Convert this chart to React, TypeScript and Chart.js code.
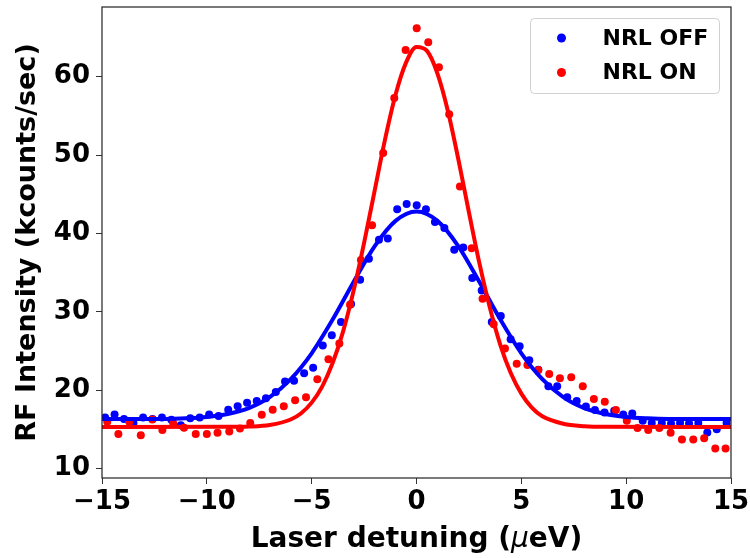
import React, { useEffect, useRef } from 'react';
import { Chart, registerables } from 'chart.js';

Chart.register(...registerables);

// ---- data ----
const seriesLabels = ['NRL OFF', 'NRL ON'];
const seriesColors = ['#0000ff', '#ff0000'];

const offX = [-14.85, -14.40, -13.95, -13.50, -13.04, -12.59, -12.14, -11.69, -11.24, -10.79, -10.34, -9.89, -9.44, -8.98, -8.53, -8.08, -7.62, -7.18, -6.71, -6.27, -5.84, -5.36, -4.93, -4.47, -4.04, -3.60, -3.12, -2.69, -2.27, -1.79, -1.37, -0.92, -0.47, 0.01, 0.45, 0.88, 1.33, 1.80, 2.23, 2.66, 3.11, 3.59, 4.02, 4.49, 4.92, 5.38, 5.81, 6.29, 6.71, 7.19, 7.64, 8.08, 8.51, 8.97, 9.43, 9.86, 10.29, 10.79, 11.22, 11.70, 12.14, 12.57, 13.00, 13.44, 13.87, 14.32, 14.79];
const offY = [16.5, 16.9, 16.3, 15.8, 16.5, 16.3, 16.5, 16.2, 15.5, 16.4, 16.5, 16.9, 16.7, 17.5, 17.95, 18.4, 18.6, 18.95, 19.75, 21.1, 21.2, 22.15, 22.85, 25.7, 27.0, 28.7, 31.0, 34.1, 36.75, 39.2, 39.35, 43.1, 43.75, 43.6, 43.1, 41.45, 40.7, 37.9, 38.2, 34.3, 32.7, 28.7, 29.45, 26.5, 25.6, 23.8, 22.6, 20.5, 20.5, 19.1, 18.6, 17.9, 17.45, 17.15, 17.35, 16.9, 17.0, 16.1, 15.8, 15.8, 15.75, 15.8, 15.75, 15.8, 14.6, 15.0, 15.8];

const onX = [-14.75, -14.22, -13.70, -13.15, -12.60, -12.12, -11.60, -11.09, -10.53, -10.00, -9.49, -8.93, -8.42, -7.93, -7.38, -6.86, -6.33, -5.79, -5.27, -4.73, -4.20, -3.68, -3.17, -2.65, -2.12, -1.59, -1.06, -0.52, 0.01, 0.56, 1.07, 1.56, 2.07, 2.63, 3.15, 3.68, 4.22, 4.78, 5.29, 5.81, 6.33, 6.84, 7.38, 7.93, 8.46, 8.98, 9.51, 10.03, 10.54, 11.05, 11.58, 12.12, 12.66, 13.20, 13.72, 14.25, 14.74];
const onY = [15.95, 14.4, 15.95, 14.25, 16.25, 14.9, 15.75, 15.2, 14.4, 14.4, 14.55, 14.7, 15.1, 15.8, 16.85, 17.5, 17.95, 18.7, 19.1, 21.4, 23.95, 25.95, 30.9, 36.6, 41.05, 50.25, 57.3, 63.4, 66.2, 64.4, 61.2, 55.2, 46.0, 38.1, 31.65, 28.4, 25.3, 23.35, 23.2, 22.55, 22.05, 21.5, 21.65, 20.5, 18.85, 18.5, 17.45, 16.1, 15.15, 14.9, 15.15, 14.55, 13.7, 13.7, 13.85, 12.55, 12.55];

const fitOffX = [-15, -12, -11, -10, -9, -8, -7, -6, -5, -4, -3, -2, -1, 0, 1, 2, 3, 4, 5, 6, 7, 8, 9, 10, 11, 12, 15];
const fitOffY = [16.3, 16.32, 16.4, 16.57, 16.95, 17.7, 19.1, 21.4, 24.7, 29.0, 33.8, 38.35, 41.6, 42.8, 41.6, 38.35, 33.8, 29.0, 24.7, 21.4, 19.1, 17.7, 16.95, 16.57, 16.4, 16.32, 16.3];

const fitOnX = [-15, -9, -8, -7, -6, -5.5, -5, -4.5, -4, -3.5, -3, -2.5, -2, -1.5, -1, -0.5, 0, 0.5, 1, 1.5, 2, 2.5, 3, 3.5, 4, 4.5, 5, 5.5, 6, 7, 8, 9, 15];
const fitOnY = [15.3, 15.31, 15.35, 15.55, 16.25, 17.05, 18.4, 20.45, 23.45, 27.5, 32.7, 38.8, 45.4, 52.0, 57.7, 61.8, 63.8, 63.3, 60.4, 55.6, 49.4, 42.7, 36.2, 30.5, 25.75, 22.15, 19.55, 17.75, 16.65, 15.7, 15.4, 15.32, 15.3];

const xTicks = [-15, -10, -5, 0, 5, 10, 15];
const yTicks = [10, 20, 30, 40, 50, 60];
// x title pieces: [text, italic]
const xTitleParts: [string, boolean][] = [['Laser detuning (', false], ['\u03bc', true], ['eV)', false]];
const yTitle = 'RF Intensity (kcounts/sec)';

const FONT = "'DejaVu Sans', 'Liberation Sans', sans-serif";

const pts = (xs: number[], ys: number[]) => xs.map((x, i) => ({ x, y: ys[i] }));

const framePlugin = {
  id: 'frame',
  afterDraw(chart: any) {
    const { ctx, chartArea: a } = chart;
    ctx.save();
    ctx.strokeStyle = '#222';
    ctx.lineWidth = 1.2;
    ctx.strokeRect(a.left, a.top, a.right - a.left, a.bottom - a.top);
    ctx.restore();
  },
};

const xTitlePlugin = {
  id: 'xTitle',
  afterDraw(chart: any) {
    const { ctx, chartArea: a } = chart;
    ctx.save();
    ctx.fillStyle = '#000';
    ctx.textBaseline = 'alphabetic';
    ctx.textAlign = 'left';
    const fonts = xTitleParts.map(([, it]) => (it ? `italic 28px ${FONT}` : `bold 28px ${FONT}`));
    let total = 0;
    const widths = xTitleParts.map(([t], i) => {
      ctx.font = fonts[i];
      const w = ctx.measureText(t).width;
      total += w;
      return w;
    });
    let x = (a.left + a.right) / 2 - total / 2;
    const y = a.bottom + 69;
    xTitleParts.forEach(([t], i) => {
      ctx.font = fonts[i];
      ctx.fillText(t, x, y);
      x += widths[i];
    });
    ctx.restore();
  },
};

const legendPlugin = {
  id: 'boxLegend',
  afterDraw(chart: any) {
    const { ctx, chartArea: a } = chart;
    const w = 189;
    const h = 75;
    const x0 = a.right - 12 - w + 0.5;
    const y0 = a.top + 11 + 0.5;
    ctx.save();
    ctx.beginPath();
    if ((ctx as any).roundRect) (ctx as any).roundRect(x0, y0, w, h, 4);
    else ctx.rect(x0, y0, w, h);
    ctx.fillStyle = 'rgba(255,255,255,0.8)';
    ctx.fill();
    ctx.strokeStyle = '#d0d0d0';
    ctx.lineWidth = 1;
    ctx.stroke();
    ctx.font = `bold 22px ${FONT}`;
    ctx.textBaseline = 'middle';
    ctx.textAlign = 'left';
    seriesLabels.forEach((lab, i) => {
      const cy = y0 + 19.5 + i * 34.5;
      ctx.beginPath();
      ctx.arc(x0 + 31, cy, 4.5, 0, Math.PI * 2);
      ctx.fillStyle = seriesColors[i];
      ctx.fill();
      ctx.fillStyle = '#000';
      ctx.fillText(lab, x0 + 72, cy + 1);
    });
    ctx.restore();
  },
};

export default function App() {
  const ref = useRef<HTMLCanvasElement | null>(null);

  useEffect(() => {
    if (!ref.current) return;
    const tickFont = { family: FONT, size: 26, weight: 'bold' as const };
    const chart = new Chart(ref.current, {
      type: 'scatter',
      data: {
        datasets: [
          {
            label: seriesLabels[1] + ' fit',
            data: pts(fitOnX, fitOnY),
            showLine: true,
            borderColor: seriesColors[1],
            borderWidth: 4,
            pointRadius: 0,
            cubicInterpolationMode: 'monotone',
            fill: false,
          } as any,
          {
            label: seriesLabels[0] + ' fit',
            data: pts(fitOffX, fitOffY),
            showLine: true,
            borderColor: seriesColors[0],
            borderWidth: 4,
            pointRadius: 0,
            cubicInterpolationMode: 'monotone',
            fill: false,
          } as any,
          {
            label: seriesLabels[1],
            data: pts(onX, onY),
            pointRadius: 4,
            pointBorderWidth: 0,
            backgroundColor: seriesColors[1],
            borderColor: seriesColors[1],
          },
          {
            label: seriesLabels[0],
            data: pts(offX, offY),
            pointRadius: 4,
            pointBorderWidth: 0,
            backgroundColor: seriesColors[0],
            borderColor: seriesColors[0],
          },
        ],
      },
      options: {
        animation: false,
        responsive: false,
        devicePixelRatio: 1,
        layout: { padding: { top: 7, right: 19, left: 0, bottom: 0 } },
        plugins: { legend: { display: false }, tooltip: { enabled: false } },
        scales: {
          x: {
            type: 'linear',
            min: -15,
            max: 15,
            afterBuildTicks: (s: any) => { s.ticks = xTicks.map((v) => ({ value: v })); },
            afterFit: (s: any) => { s.height = 80; s.paddingLeft = 0; s.paddingRight = 0; },
            border: { display: false },
            grid: { drawOnChartArea: false, drawTicks: true, tickLength: 6, color: '#333', lineWidth: 1 },
            ticks: {
              font: tickFont,
              color: '#000',
              padding: 3,
              maxRotation: 0,
              autoSkip: false,
              callback: (v: any) => (Number(v) < 0 ? '\u2212' + Math.abs(Number(v)) : String(v)),
            },
            title: { display: false },
          },
          y: {
            type: 'linear',
            min: 8.78,
            max: 68.9,
            afterBuildTicks: (s: any) => { s.ticks = yTicks.map((v) => ({ value: v })); },
            afterFit: (s: any) => { s.width = 102; s.paddingTop = 0; s.paddingBottom = 0; },
            border: { display: false },
            grid: { drawOnChartArea: false, drawTicks: true, tickLength: 6, color: '#333', lineWidth: 1 },
            ticks: {
              font: tickFont,
              color: '#000',
              padding: 6,
              autoSkip: false,
              callback: (v: any) => String(v),
            },
            title: {
              display: true,
              text: yTitle,
              color: '#000',
              font: { family: FONT, size: 27, weight: 'bold', lineHeight: 1.2 },
              padding: { top: 11.5, bottom: 0 },
            },
          },
        },
      },
      plugins: [framePlugin, xTitlePlugin, legendPlugin],
    });
    return () => chart.destroy();
  }, []);

  return (
    <div style={{ position: 'fixed', left: 0, top: 0, width: 750, height: 558, background: '#fff' }}>
      <canvas ref={ref} width={750} height={558} style={{ display: 'block' }} />
    </div>
  );
}
